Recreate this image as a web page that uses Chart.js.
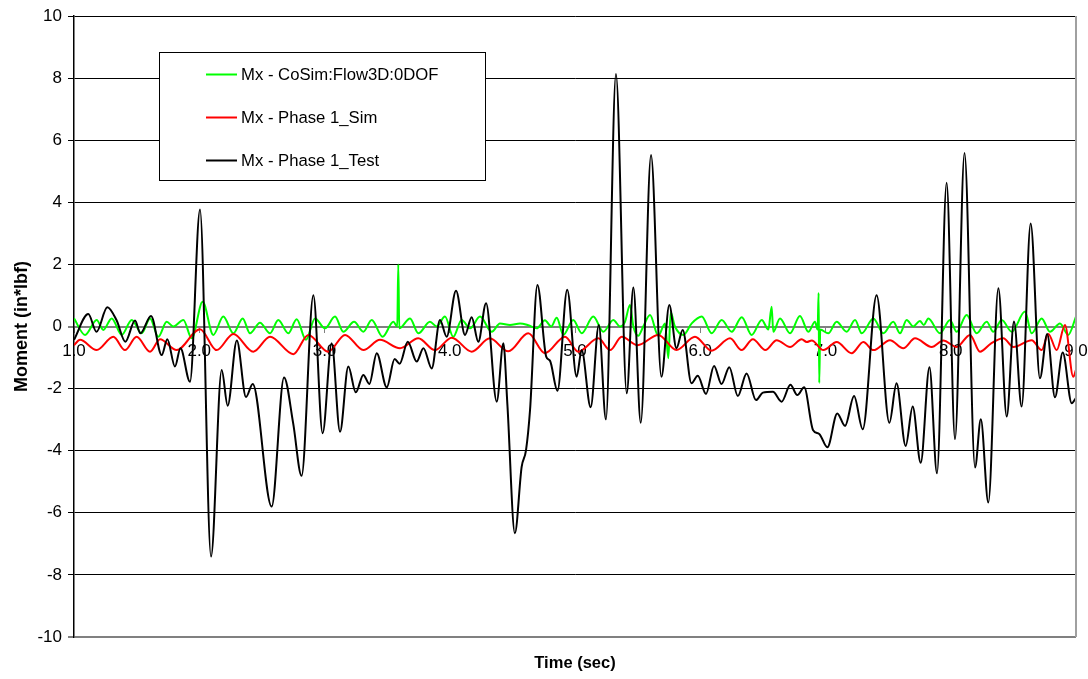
<!DOCTYPE html>
<html>
<head>
<meta charset="utf-8">
<title>Moment vs time</title>
<style>
  html, body { margin: 0; padding: 0; background: #fff; }
  canvas { display: block; }
</style>
</head>
<body>
<canvas id="chart" width="1088" height="679"></canvas>
<script src="https://cdn.jsdelivr.net/npm/chart.js"></script>
<script>
const FONT = '"Liberation Sans", Arial, sans-serif';

const seriesNames = ['Mx - CoSim:Flow3D:0DOF', 'Mx - Phase 1_Sim', 'Mx - Phase 1_Test'];
const seriesColors = ['#00ff00', '#ff0000', '#000000'];

const xTicks = [1, 2, 3, 4, 5, 6, 7, 8, 9];
const yTicks = [-10, -8, -6, -4, -2, 0, 2, 4, 6, 8, 10];

// CoSim (green)
const cosimT = [1.000, 1.088, 1.181, 1.234, 1.301, 1.381, 1.461, 1.540, 1.607, 1.673,
  1.740, 1.793, 1.873, 1.940, 2.027, 2.112, 2.192, 2.272, 2.347, 2.405,
  2.485, 2.565, 2.631, 2.711, 2.778, 2.852, 2.924, 3.004, 3.084, 3.150,
  3.236, 3.310, 3.377, 3.464, 3.550, 3.581, 3.589, 3.597, 3.683, 3.749,
  3.842, 3.896, 3.962, 4.028, 4.095, 4.162, 4.242, 4.335, 4.401, 4.481,
  4.561, 4.627, 4.694, 4.760, 4.810, 4.854, 4.907, 4.986, 5.054, 5.146,
  5.226, 5.306, 5.359, 5.399, 5.439, 5.466, 5.505, 5.545, 5.599, 5.665,
  5.719, 5.745, 5.764, 5.798, 5.865, 5.932, 6.012, 6.091, 6.171, 6.251,
  6.331, 6.411, 6.491, 6.544, 6.570, 6.583, 6.637, 6.717, 6.796, 6.863,
  6.916, 6.937, 6.945, 6.950, 6.958, 7.022, 7.089, 7.169, 7.236, 7.289,
  7.382, 7.462, 7.541, 7.595, 7.648, 7.701, 7.754, 7.785, 7.821, 7.914,
  7.994, 8.047, 8.127, 8.207, 8.287, 8.340, 8.407, 8.487, 8.593, 8.646,
  8.726, 8.792, 8.872, 8.938, 9.000];
const cosimV = [0.26, -0.27, 0.21, -0.11, 0.26, -0.27, 0.21, -0.22, 0.26, -0.33,
  0.15, 0.00, 0.21, -0.38, 0.80, -0.27, 0.32, -0.22, 0.26, -0.22,
  0.12, -0.22, 0.21, -0.22, 0.23, -0.43, 0.26, -0.06, 0.32, -0.17,
  0.15, -0.17, 0.21, -0.33, 0.15, 0.00, 2.00, -0.06, 0.26, -0.22,
  0.15, 0.00, 0.32, -0.33, 0.21, -0.06, 0.32, -0.17, 0.10, 0.05,
  0.10, 0.04, -0.06, 0.20, 0.00, 0.28, -0.27, 0.21, -0.22, 0.32,
  -0.17, 0.21, 0.00, 0.15, 0.69, 0.00, -0.30, 0.00, 0.37, -0.30,
  0.10, -1.02, 0.45, 0.00, -0.27, 0.10, 0.32, -0.22, 0.21, -0.17,
  0.30, -0.27, 0.21, -0.10, 0.64, -0.17, 0.26, -0.22, 0.34, -0.17,
  0.15, -0.10, 1.08, -1.82, -0.10, -0.22, 0.15, -0.17, 0.21, -0.22,
  0.26, -0.22, 0.15, -0.22, 0.21, 0.00, 0.18, 0.05, 0.26, -0.22,
  0.21, -0.17, 0.37, -0.22, 0.15, -0.17, 0.21, -0.17, 0.48, -0.22,
  0.26, -0.17, 0.10, -0.27, 0.32];

// Phase 1 simulation (red)
const simT = [1.000, 1.048, 1.181, 1.314, 1.407, 1.500, 1.607, 1.687, 1.820, 2.006,
  2.139, 2.272, 2.432, 2.565, 2.751, 2.871, 3.030, 3.164, 3.310, 3.443,
  3.603, 3.749, 3.882, 4.016, 4.175, 4.320, 4.467, 4.627, 4.760, 4.920,
  5.026, 5.186, 5.280, 5.373, 5.500, 5.665, 5.810, 5.958, 6.090, 6.238,
  6.330, 6.420, 6.520, 6.610, 6.717, 6.810, 6.850, 6.890, 6.983, 7.089,
  7.209, 7.302, 7.382, 7.515, 7.621, 7.715, 7.848, 7.940, 8.047, 8.154,
  8.234, 8.320, 8.420, 8.500, 8.646, 8.726, 8.779, 8.846, 8.912, 8.978, 9.000];
const simV = [-0.60, -0.43, -0.76, -0.33, -0.76, -0.33, -0.81, -0.41, -0.76, -0.09,
  -0.76, -0.24, -0.81, -0.33, -0.89, -0.27, -0.81, -0.27, -0.76, -0.43,
  -0.70, -0.38, -0.76, -0.36, -0.81, -0.38, -0.80, -0.22, -0.86, -0.33,
  -0.81, -0.38, -0.76, -0.33, -0.60, -0.27, -0.76, -0.33, -0.78, -0.38,
  -0.76, -0.41, -0.76, -0.44, -0.66, -0.41, -0.50, -0.45, -0.76, -0.50,
  -0.86, -0.50, -0.76, -0.44, -0.70, -0.38, -0.66, -0.45, -0.66, -0.27,
  -0.81, -0.55, -0.38, -0.66, -0.44, -0.76, -0.24, -0.76, 0.05, -1.62, -1.40];

// Phase 1 test (black)
const testT = [1.000, 1.114, 1.180, 1.266, 1.340, 1.410, 1.487, 1.530, 1.615, 1.700,
  1.745, 1.806, 1.850, 1.926, 2.006, 2.094, 2.179, 2.227, 2.300, 2.373,
  2.427, 2.578, 2.677, 2.750, 2.817, 2.911, 2.985, 3.057, 3.124, 3.190,
  3.250, 3.310, 3.358, 3.417, 3.497, 3.560, 3.600, 3.665, 3.736, 3.790,
  3.856, 3.922, 3.975, 4.050, 4.122, 4.175, 4.228, 4.290, 4.375, 4.428,
  4.460, 4.520, 4.574, 4.609, 4.641, 4.700, 4.770, 4.800, 4.860, 4.938,
  5.013, 5.053, 5.125, 5.190, 5.247, 5.327, 5.413, 5.466, 5.525, 5.607,
  5.690, 5.753, 5.810, 5.860, 5.930, 5.980, 6.046, 6.110, 6.170, 6.232,
  6.300, 6.370, 6.445, 6.500, 6.580, 6.650, 6.720, 6.775, 6.830, 6.900,
  6.950, 7.015, 7.094, 7.156, 7.228, 7.297, 7.408, 7.510, 7.567, 7.640,
  7.696, 7.760, 7.830, 7.890, 7.967, 8.034, 8.110, 8.194, 8.240, 8.300,
  8.380, 8.447, 8.505, 8.566, 8.638, 8.712, 8.770, 8.832, 8.894, 8.966, 9.000];
const testV = [-0.43, 0.40, -0.17, 0.62, 0.20, -0.49, 0.19, -0.22, 0.34, -0.92,
  -0.41, -1.29, -0.70, -1.78, 3.77, -7.41, -1.40, -2.55, -0.45, -2.27,
  -1.85, -5.80, -1.64, -3.12, -4.81, 1.01, -3.44, -0.54, -3.39, -1.29,
  -2.12, -1.56, -1.85, -0.86, -1.96, -1.05, -1.20, -0.49, -1.13, -0.70,
  -1.35, 0.21, -0.33, 1.15, -0.27, 0.30, -0.49, 0.75, -2.42, -0.54,
  -2.50, -6.66, -4.52, -3.98, -2.69, 1.34, -0.97, -1.10, -2.07, 1.18,
  -1.62, -0.76, -2.60, 0.05, -2.99, 8.13, -2.15, 1.26, -3.10, 5.52,
  -1.62, 0.69, -0.70, -0.11, -1.83, -1.59, -2.17, -1.27, -1.85, -1.31,
  -2.24, -1.51, -2.37, -2.13, -2.10, -2.42, -1.88, -2.21, -1.96, -3.33,
  -3.46, -3.89, -2.80, -3.20, -2.24, -3.31, 1.01, -3.10, -1.83, -3.85,
  -2.58, -4.39, -1.31, -4.73, 4.63, -3.63, 5.59, -4.54, -2.99, -5.67,
  1.23, -2.90, 0.16, -2.58, 3.32, -1.67, -0.24, -2.28, -0.84, -2.47, -2.30];

const toPoints = (ts, vs) => ts.map((t, i) => ({ x: t, y: vs[i] }));

function makeSeries(i, ts, vs, order) {
  return {
    label: seriesNames[i],
    data: toPoints(ts, vs),
    borderColor: seriesColors[i],
    backgroundColor: seriesColors[i],
    borderWidth: 2,
    pointRadius: 0,
    cubicInterpolationMode: 'monotone',
    order: order
  };
}

// boxed legend inside the plot + right edge of the plot frame
const legendBox = {
  id: 'legendBox',
  afterDatasetsDraw(chart) {
    const ctx = chart.ctx;
    const area = chart.chartArea;
    ctx.save();
    ctx.strokeStyle = '#a0a0a0';
    ctx.lineWidth = 2;
    ctx.beginPath();
    ctx.moveTo(area.right, area.top);
    ctx.lineTo(area.right, area.bottom);
    ctx.stroke();

    ctx.fillStyle = '#fff';
    ctx.fillRect(159.5, 52.5, 326, 128);
    ctx.strokeStyle = '#000';
    ctx.lineWidth = 1;
    ctx.strokeRect(159.5, 52.5, 326, 128);

    ctx.font = '16.7px ' + FONT;
    ctx.textBaseline = 'middle';
    chart.data.datasets.forEach((ds, i) => {
      const y = 74.5 + i * 43;
      ctx.strokeStyle = ds.borderColor;
      ctx.lineWidth = 2;
      ctx.beginPath();
      ctx.moveTo(206, y);
      ctx.lineTo(237, y);
      ctx.stroke();
      ctx.fillStyle = '#000';
      ctx.fillText(ds.label, 241, y + 1);
    });
    ctx.restore();
  }
};

// keep tick-label overhang from shrinking the plot area
const noOverhang = s => {
  s.paddingLeft = 0;
  s.paddingRight = 0;
  s.paddingTop = 0;
  s.paddingBottom = 0;
};

new Chart(document.getElementById('chart'), {
  type: 'line',
  data: {
    datasets: [
      makeSeries(0, cosimT, cosimV, 3),
      makeSeries(1, simT, simV, 2),
      makeSeries(2, testT, testV, 1)
    ]
  },
  options: {
    responsive: false,
    animation: false,
    layout: { padding: { top: 16, right: 12, left: 0, bottom: 0 } },
    plugins: { legend: { display: false }, tooltip: { enabled: false } },
    scales: {
      x: {
        type: 'linear',
        min: 1,
        max: 9,
        ticks: { display: false },
        grid: { display: false },
        border: { display: false },
        title: {
          display: true,
          text: 'Time (sec)',
          color: '#000',
          font: { family: FONT, size: 16.5, weight: 'bold' },
          padding: { top: 0, bottom: 6 }
        },
        afterFit: s => { s.height = 42; noOverhang(s); }
      },
      xZero: {
        type: 'linear',
        axis: 'x',
        position: { y: 0 },
        min: 1,
        max: 9,
        afterBuildTicks: s => { s.ticks = xTicks.map(v => ({ value: v })); },
        afterFit: noOverhang,
        ticks: {
          color: '#000',
          padding: 10,
          maxRotation: 0,
          autoSkip: false,
          font: { family: FONT, size: 17 },
          callback: v => v.toFixed(1)
        },
        grid: { drawOnChartArea: false, drawTicks: true, tickLength: 5, color: '#808080' },
        border: { color: '#808080', width: 2 }
      },
      y: {
        type: 'linear',
        min: -10,
        max: 10,
        afterBuildTicks: s => { s.ticks = yTicks.map(v => ({ value: v })); },
        ticks: {
          color: '#000',
          padding: 6,
          font: { family: FONT, size: 17 }
        },
        grid: {
          color: c => (c.tick && (c.tick.value === 0 || c.tick.value === -10)) ? '#808080' : '#000',
          lineWidth: c => (c.tick && (c.tick.value === 0 || c.tick.value === -10)) ? 2 : 1,
          tickLength: 6
        },
        border: { color: '#000', width: 1.5 },
        title: {
          display: true,
          text: 'Moment (in*lbf)',
          color: '#000',
          font: { family: FONT, size: 18, weight: 'bold' },
          padding: { top: 11, bottom: 0 }
        },
        afterFit: s => { s.width = 74; noOverhang(s); }
      }
    }
  },
  plugins: [legendBox]
});
</script>
</body>
</html>
